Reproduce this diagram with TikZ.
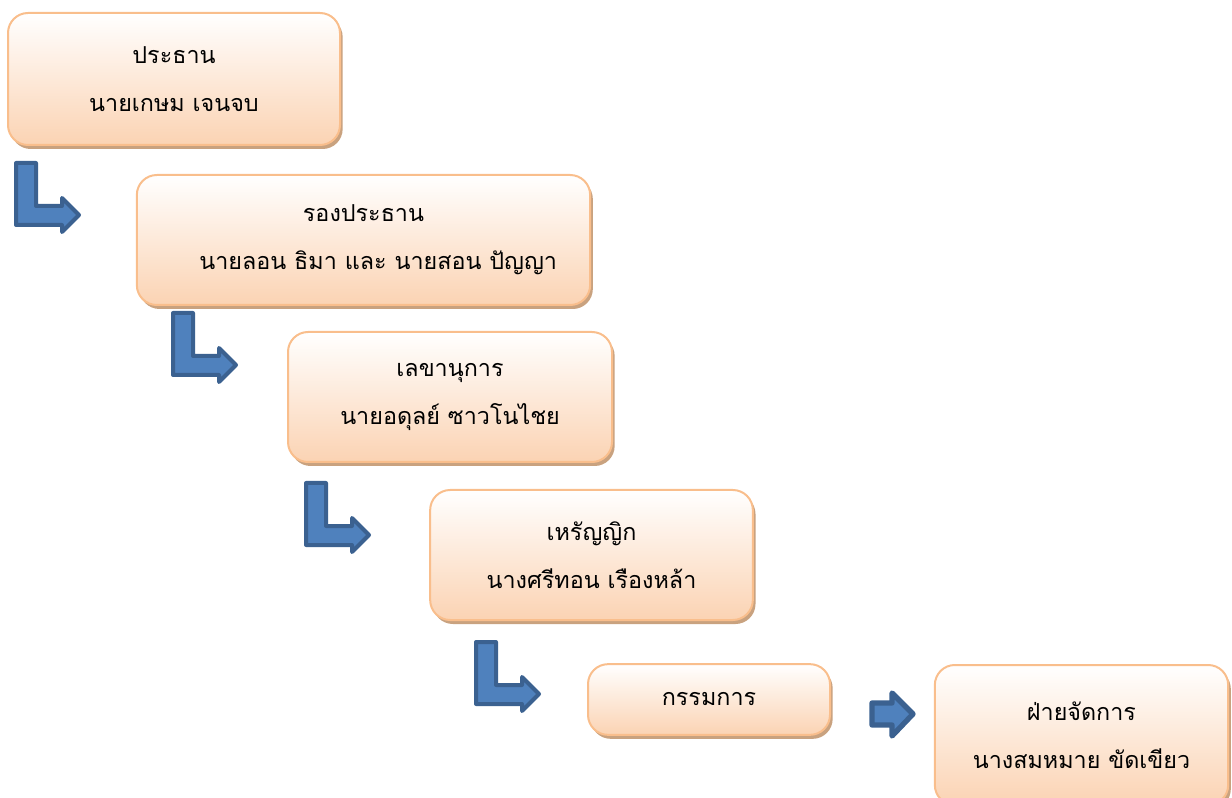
\documentclass[tikz,border=0pt]{standalone}
\usepackage{fontspec}
\newfontfamily\thaifont[Script=Thai]{Loma}
\usetikzlibrary{shadows}

\definecolor{peach}{HTML}{FBD3B3}
\definecolor{peachline}{HTML}{F9BE8C}
\definecolor{boxshade}{HTML}{C9A27F}
\definecolor{arrowfill}{HTML}{4F81BD}
\definecolor{arrowline}{HTML}{3B6190}

\tikzset{
  post/.style={draw=peachline, line width=1.5pt, rounded corners=15pt,
    top color=white, bottom color=peach, align=center, inner sep=0pt,
    font=\thaifont\fontsize{17.5}{36}\selectfont,
    drop shadow={shadow xshift=2pt, shadow yshift=-3pt, fill=boxshade, opacity=1}},
  bendarrow/.style={fill=arrowfill, draw=arrowline, line width=3pt, line join=round}
}

\begin{document}
\begin{tikzpicture}[x=0.75pt, y=-0.75pt]
\useasboundingbox (0,0) rectangle (1232,798);

\node[post, minimum width=249pt, minimum height=99pt] (chair) at (174,79) {ประธาน\\นายเกษม เจนจบ};
\node[post, minimum width=340pt, minimum height=97.5pt] (vice) at (363.5,240) {รองประธาน\\\hspace*{22pt}นายลอน ธิมา และ นายสอน ปัญญา};
\node[post, minimum width=243pt, minimum height=97.5pt] (secretary) at (450,397) {เลขานุการ\\นายอดุลย์ ซาวโนไชย};
\node[post, minimum width=242pt, minimum height=97.5pt] (treasurer) at (591.5,555) {เหรัญญิก\\นางศรีทอน เรืองหล้า};
\node[post, minimum width=181.5pt, minimum height=53pt] (committee) at (709,699.5) {กรรมการ};
\node[post, minimum width=220pt, minimum height=105pt] (manager) at (1081.5,735) {ฝ่ายจัดการ\\นางสมหมาย ขัดเขียว};

% bent arrows
\foreach \ax/\ay in {16/163, 173/313, 306/483, 476/642}
  \draw[bendarrow, shift={(\ax,\ay)}] (0,0) -- (20,0) -- (20,43) -- (46,43) -- (46,35) -- (63,52)
    -- (46,69) -- (46,62) -- (0,62) -- cycle;

% straight arrow
\draw[bendarrow, line width=4pt] (872,703) -- (892,703) -- (892,693) -- (913,714) -- (892,736)
  -- (892,725) -- (872,725) -- cycle;
\end{tikzpicture}
\end{document}
